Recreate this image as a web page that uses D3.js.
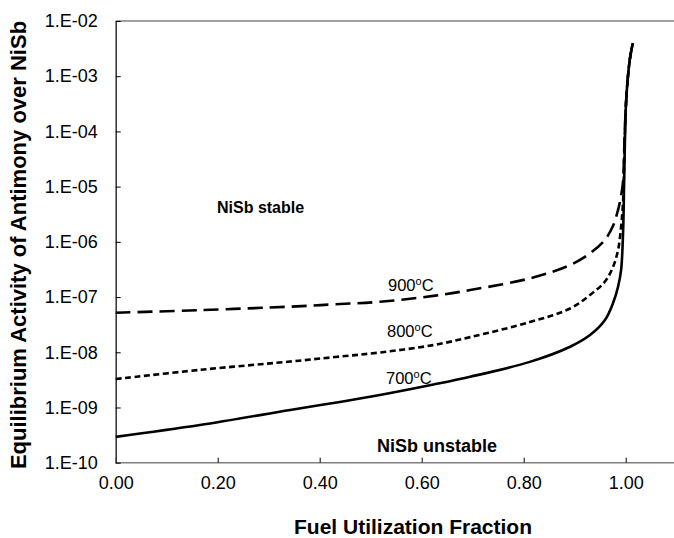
<!DOCTYPE html>
<html>
<head>
<meta charset="utf-8">
<script src="https://cdn.jsdelivr.net/npm/d3@7"></script>
<style>
  html, body { margin: 0; padding: 0; background: #fff; }
  svg { display: block; }
  text { font-family: "Liberation Sans", Arial, sans-serif; fill: #000; }
</style>
</head>
<body>
<svg id="chart" width="674" height="538"></svg>
<script>
// Fuel utilization fraction (x) and equilibrium Sb activity (y) for each temperature
const fu900 = [0, 0.165, 0.342, 0.430, 0.518, 0.623, 0.695, 0.812, 0.891, 0.930, 0.959, 0.975, 0.985, 0.991, 0.995, 0.997, 1.001, 1.008, 1.014];
const act900 = [5.2e-8, 5.8e-8, 6.7e-8, 7.4e-8, 8.2e-8, 1.05e-7, 1.34e-7, 2.18e-7, 3.8e-7, 6.2e-7, 1.08e-6, 1.93e-6, 3.8e-6, 6.8e-6, 1.3e-5, 4.6e-5, 3.7e-4, 2.0e-3, 4.0e-3];

const fu800 = [0, 0.165, 0.342, 0.430, 0.518, 0.623, 0.695, 0.812, 0.891, 0.930, 0.959, 0.975, 0.985, 0.991, 0.995, 0.997, 1.001, 1.008, 1.014];
const act800 = [3.27e-9, 4.8e-9, 6.8e-9, 8.2e-9, 9.9e-9, 1.35e-8, 1.88e-8, 3.52e-8, 6.2e-8, 1.09e-7, 1.89e-7, 3.5e-7, 7.1e-7, 1.9e-6, 5.7e-6, 3.0e-5, 3.7e-4, 2.0e-3, 4.0e-3];

const fu700 = [0, 0.165, 0.342, 0.430, 0.518, 0.623, 0.695, 0.812, 0.891, 0.930, 0.959, 0.975, 0.985, 0.991, 0.995, 0.997, 1.001, 1.008, 1.014];
const act700 = [2.94e-10, 4.8e-10, 9.0e-10, 1.22e-9, 1.68e-9, 2.6e-9, 3.6e-9, 6.7e-9, 1.26e-8, 2.05e-8, 3.8e-8, 7.7e-8, 1.54e-7, 3.1e-7, 1.64e-6, 1.3e-5, 3.7e-4, 2.0e-3, 4.0e-3];

const xTicks = [0, 0.2, 0.4, 0.6, 0.8, 1.0];
const yTicks = [1e-10, 1e-9, 1e-8, 1e-7, 1e-6, 1e-5, 1e-4, 1e-3, 1e-2];

const xTitle = "Fuel Utilization Fraction";
const yTitle = "Equilibrium Activity of Antimony over NiSb";

const svg = d3.select("#chart");
svg.append("rect").attr("width", 674).attr("height", 538).attr("fill", "#fff");

const plotL = 115.7, plotR = 676.7, plotT = 21, plotB = 462.7;
const x = d3.scaleLinear().domain([0, 1.1]).range([plotL, plotR]);
const y = d3.scaleLog().domain([1e-10, 1e-2]).range([plotB, plotT]);

// plot frame: top edge in grey
svg.append("line")
  .attr("x1", plotL).attr("x2", 674).attr("y1", plotT).attr("y2", plotT)
  .attr("stroke", "#808080").attr("stroke-width", 1.5);

// x axis
const xAxis = d3.axisBottom(x).tickValues(xTicks).tickSizeInner(-5).tickSizeOuter(0)
  .tickFormat(d3.format(".2f")).tickPadding(14);
const gx = svg.append("g").attr("transform", `translate(0,${plotB})`).call(xAxis);
gx.select(".domain").attr("stroke", "#808080").attr("stroke-width", 1.6)
  .attr("d", `M${plotL},0H674`);
gx.selectAll(".tick line").attr("stroke", "#000").attr("stroke-width", 1);
gx.selectAll(".tick text").attr("font-size", 18).attr("dy", "0.71em")
  .style("font-family", "Liberation Sans, Arial, sans-serif").attr("fill", "#000");

// y axis (log)
const fmtExp = d => "1.E-" + String(-Math.round(Math.log10(d))).padStart(2, "0");
const yAxis = d3.axisLeft(y).tickValues(yTicks).tickSizeInner(-5).tickSizeOuter(0)
  .tickFormat(fmtExp).tickPadding(18);
const gy = svg.append("g").attr("transform", `translate(${plotL},0)`).call(yAxis);
gy.select(".domain").attr("stroke", "#303030").attr("stroke-width", 1.5);
gy.selectAll(".tick line").attr("stroke", "#000").attr("stroke-width", 1);
gy.selectAll(".tick text").attr("font-size", 18)
  .style("font-family", "Liberation Sans, Arial, sans-serif").attr("fill", "#000");

// curves
const line = d3.line().x(d => x(d[0])).y(d => y(d[1])).curve(d3.curveCatmullRom.alpha(0.5));
const series = [
  { name: "900", fu: fu900, act: act900, dash: "15,7" },
  { name: "800", fu: fu800, act: act800, dash: "6,3.5" },
  { name: "700", fu: fu700, act: act700, dash: null }
];
series.forEach(s => {
  const pts = s.fu.map((f, i) => [f, s.act[i]]);
  svg.append("path").datum(pts)
    .attr("d", line)
    .attr("fill", "none")
    .attr("stroke", "#000")
    .attr("stroke-width", 2.6)
    .attr("stroke-dasharray", s.dash);
});

// temperature labels
const tempLabels = [
  { name: "900", x: 388, y: 290.7 },
  { name: "800", x: 387, y: 336.7 },
  { name: "700", x: 386, y: 384 }
];
tempLabels.forEach(l => {
  const t = svg.append("text").attr("x", l.x).attr("y", l.y).attr("font-size", 16.5);
  t.append("tspan").text(l.name);
  t.append("tspan").attr("font-size", 11).attr("dy", -6).text("o");
  t.append("tspan").attr("dy", 6).text("C");
});

// region annotations
svg.append("text").attr("x", 217).attr("y", 213)
  .attr("font-size", 16).attr("font-weight", "bold").text("NiSb stable");
svg.append("text").attr("x", 377).attr("y", 451.5)
  .attr("font-size", 18).attr("font-weight", "bold").text("NiSb unstable");

// axis titles
svg.append("text").attr("x", 413).attr("y", 534)
  .attr("text-anchor", "middle").attr("font-size", 21).attr("font-weight", "bold")
  .text(xTitle);
svg.append("text")
  .attr("transform", "translate(26,245) rotate(-90)")
  .attr("text-anchor", "middle").attr("font-size", 22).attr("font-weight", "bold")
  .text(yTitle);
</script>
</body>
</html>
